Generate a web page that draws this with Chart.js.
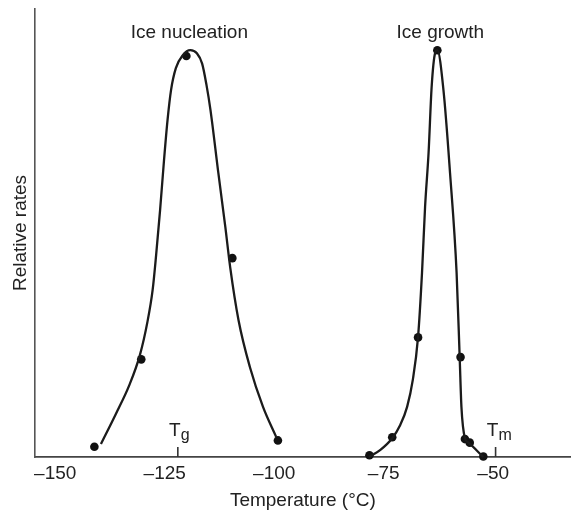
<!DOCTYPE html>
<html>
<head>
<meta charset="utf-8">
<script src="https://cdn.jsdelivr.net/npm/chart.js@4/dist/chart.umd.min.js"></script>
<style>
  html, body { margin: 0; padding: 0; background: #ffffff; }
  #wrap { width: 575px; height: 514px; }
</style>
</head>
<body>
<div id="wrap"><canvas id="c" width="575" height="514"></canvas></div>
<script>
// ---- data ----
const tempTicks = [-150, -125, -100, -75, -50];

const nucleationCurveT    = [-140.7, -137.3, -134.2, -131.8, -130.1, -128.9, -128.1, -127.2, -126.3, -125.5, -124.7, -123.6, -122.0, -120.3, -118.8, -117.6, -116.6, -115.7, -113.9, -112.3, -111.2, -109.3, -106.7, -103.7, -100.7];
const nucleationCurveRate = [2.9, 9.6, 16.1, 22.8, 30.1, 37.3, 45.1, 55.1, 66.3, 75.2, 81.9, 86.8, 89.7, 90.8, 90.1, 87.8, 83.0, 77.5, 63.4, 51.3, 42.4, 30.6, 20.1, 11.2, 4.5];

const nucleationDotT    = [-142.2, -131.5, -121.2, -110.7, -100.3];
const nucleationDotRate = [2.3, 21.8, 89.5, 44.4, 3.7];

const growthCurveT    = [-79.5, -76.9, -74.2, -72.4, -70.8, -69.5, -68.3, -67.4, -66.7, -65.9, -65.2, -64.4, -63.9, -62.5, -61.0, -59.5, -58.8, -58.4, -57.6, -56.9, -53.4];
const growthCurveRate = [0, 1.6, 4.2, 7.1, 11.2, 17.2, 26.8, 41.1, 55.8, 67.9, 82.6, 90.2, 90.8, 81.9, 63.4, 41.1, 22.3, 11.2, 4.2, 3.3, 0];

const growthDotT    = [-79.4, -74.2, -68.3, -63.9, -58.6, -57.6, -56.5, -53.4];
const growthDotRate = [0.4, 4.4, 26.7, 90.8, 22.3, 4.0, 3.2, 0.1];

const seriesLabels = ['Ice nucleation', 'Ice growth'];
const markerLabels = [{ main: 'T', sub: 'g', t: -123.15 }, { main: 'T', sub: 'm', t: -50.6 }];

const xTitle = 'Temperature (°C)';
const yTitle = 'Relative rates';

// ---- helpers ----
const pts = (xs, ys) => xs.map((x, i) => ({ x: x, y: ys[i] }));
const FONT = '"Liberation Sans", Arial, Helvetica, sans-serif';
const INK = '#1b1b1b';

const annotate = {
  id: 'annotate',
  afterDraw(chart) {
    const ctx = chart.ctx;
    const xs = chart.scales.x, ys = chart.scales.y;
    ctx.save();
    ctx.fillStyle = '#222';
    ctx.textAlign = 'center';
    ctx.textBaseline = 'alphabetic';
    ctx.font = '19px ' + FONT;
    const nPeak = nucleationDotT[nucleationDotRate.indexOf(Math.max(...nucleationDotRate))];
    const gPeak = growthDotT[growthDotRate.indexOf(Math.max(...growthDotRate))];
    ctx.fillText(seriesLabels[0], xs.getPixelForValue(nPeak) + 3, 38);
    ctx.fillText(seriesLabels[1], xs.getPixelForValue(gPeak) + 3, 38);
    const base = ys.getPixelForValue(0);
    markerLabels.forEach(m => {
      const px = xs.getPixelForValue(m.t);
      ctx.strokeStyle = '#333';
      ctx.lineWidth = 1.6;
      ctx.beginPath();
      ctx.moveTo(px, base);
      ctx.lineTo(px, base - 10);
      ctx.stroke();
      ctx.font = '19px ' + FONT;
      ctx.textAlign = 'center';
      ctx.fillText(m.main, px - 3, base - 21);
      ctx.font = '16px ' + FONT;
      ctx.textAlign = 'left';
      ctx.fillText(m.sub, px + 3, base - 17);
    });
    ctx.restore();
  }
};

new Chart(document.getElementById('c'), {
  type: 'scatter',
  data: {
    datasets: [
      { label: seriesLabels[0] + ' curve', data: pts(nucleationCurveT, nucleationCurveRate), showLine: true,
        borderColor: INK, borderWidth: 2.3, pointRadius: 0, cubicInterpolationMode: 'monotone', clip: false },
      { label: seriesLabels[1] + ' curve', data: pts(growthCurveT, growthCurveRate), showLine: true,
        borderColor: INK, borderWidth: 2.3, pointRadius: 0, cubicInterpolationMode: 'monotone', clip: false },
      { label: seriesLabels[0], data: pts(nucleationDotT, nucleationDotRate), showLine: false,
        pointRadius: 4.3, pointBackgroundColor: '#111', pointBorderWidth: 0, clip: false },
      { label: seriesLabels[1], data: pts(growthDotT, growthDotRate), showLine: false,
        pointRadius: 4.3, pointBackgroundColor: '#111', pointBorderWidth: 0, clip: false }
    ]
  },
  options: {
    responsive: false,
    animation: false,
    layout: { padding: { top: 9, left: 0, right: 0, bottom: 0 } },
    plugins: { legend: { display: false }, tooltip: { enabled: false } },
    scales: {
      x: {
        type: 'linear',
        min: -155.76,
        max: -33.45,
        afterBuildTicks: (s) => { s.ticks = tempTicks.map(v => ({ value: v })); },
        afterFit: (s) => { s.height = 57; },
        grid: { display: false, drawTicks: false },
        border: { display: true, color: '#444', width: 1.8 },
        ticks: {
          color: '#222',
          font: { family: FONT, size: 19 },
          padding: 5,
          labelOffset: -5,
          maxRotation: 0,
          autoSkip: false,
          callback: (v) => (v < 0 ? '\u2013' : '') + Math.abs(v)
        },
        title: { display: true, text: xTitle, color: '#222', font: { family: FONT, size: 19 }, padding: { top: 0, bottom: 2 } }
      },
      y: {
        type: 'linear',
        min: 0,
        max: 100,
        afterFit: (s) => { s.width = 35; },
        grid: { display: false, drawTicks: false },
        border: { display: true, color: '#555', width: 1.6 },
        ticks: { display: false },
        title: { display: true, text: yTitle, color: '#222', font: { family: FONT, size: 19 }, padding: { top: 9, bottom: 0 } }
      }
    }
  },
  plugins: [annotate]
});
</script>
</body>
</html>
